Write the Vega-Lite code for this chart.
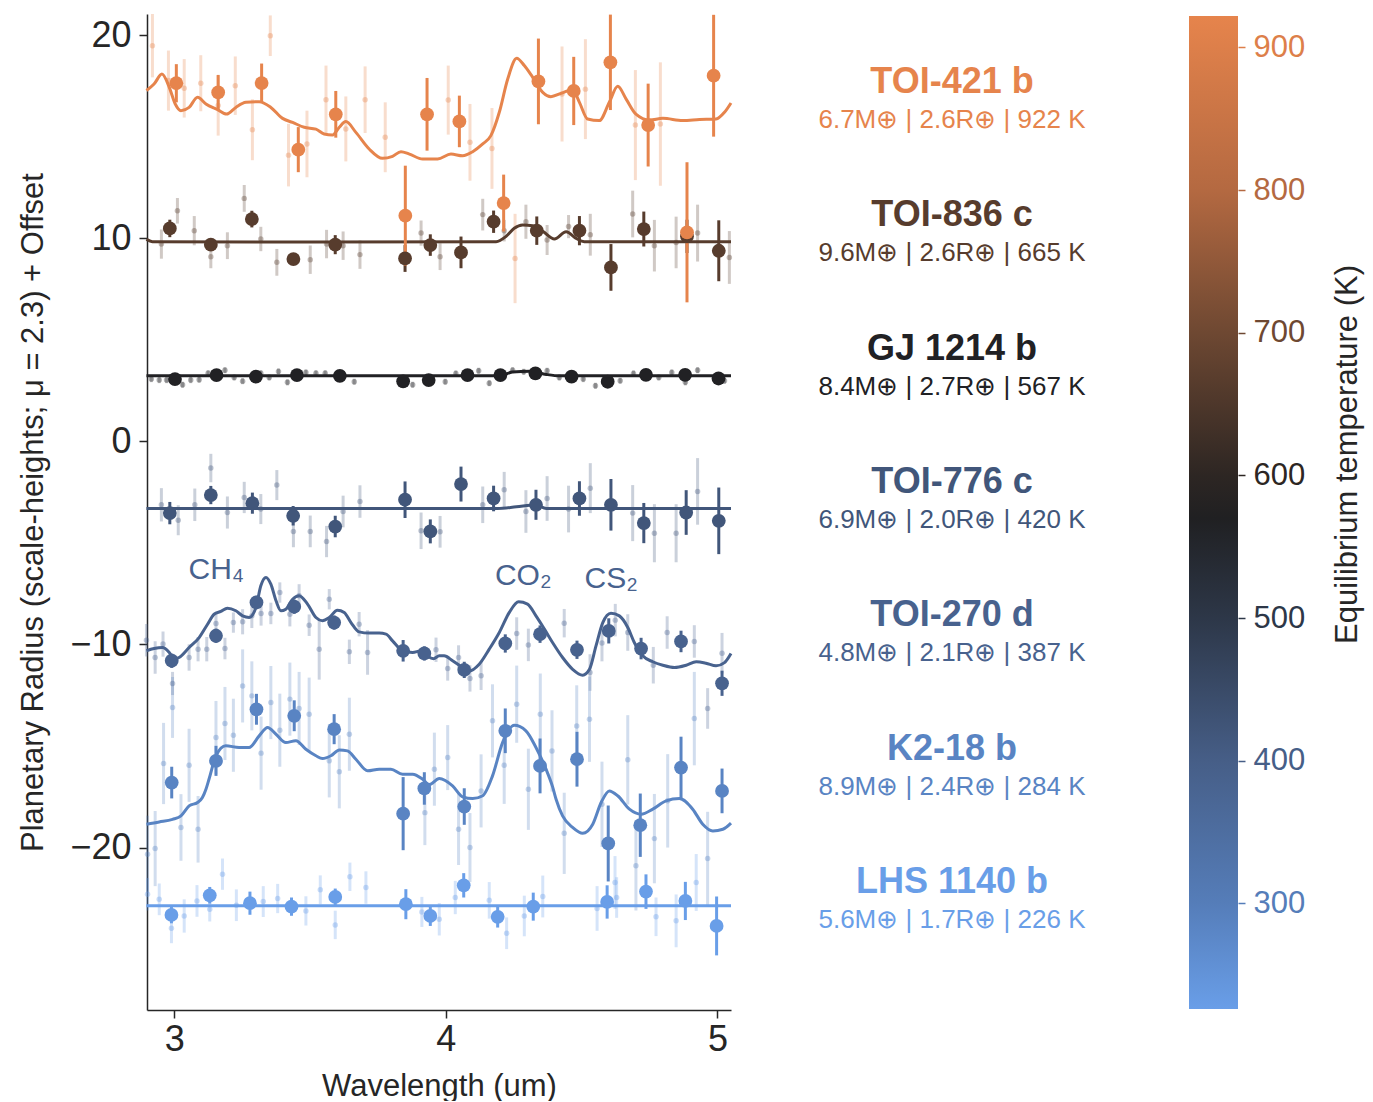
{
  "$schema": "https://vega.github.io/schema/vega-lite/v6.json",
  "padding": {"left": 17, "top": 12, "right": 5, "bottom": 0},
  "config": {"view": {"stroke": null}, "font": "Liberation Sans", "axis": {"grid": false}},
  "spacing": 20,
  "resolve": {"scale": {"color": "independent"}},
  "datasets": {
    "binned": [
      {"p":"TOI-836 c","t":665,"x":2.984,"y":10.49,"e":0.43},{"p":"TOI-836 c","t":665,"x":3.135,"y":9.69,"e":0.29},{"p":"TOI-836 c","t":665,"x":3.286,"y":10.95,"e":0.41},{"p":"TOI-836 c","t":665,"x":3.439,"y":8.98,"e":0.29},{"p":"TOI-836 c","t":665,"x":3.593,"y":9.69,"e":0.47},{"p":"TOI-836 c","t":665,"x":3.85,"y":9.01,"e":0.66},{"p":"TOI-836 c","t":665,"x":3.943,"y":9.67,"e":0.53},{"p":"TOI-836 c","t":665,"x":4.056,"y":9.31,"e":0.78},{"p":"TOI-836 c","t":665,"x":4.176,"y":10.82,"e":0.55},{"p":"TOI-836 c","t":665,"x":4.335,"y":10.38,"e":0.7},{"p":"TOI-836 c","t":665,"x":4.492,"y":10.38,"e":0.72},{"p":"TOI-836 c","t":665,"x":4.608,"y":8.57,"e":1.15},{"p":"TOI-836 c","t":665,"x":4.729,"y":10.46,"e":0.86},{"p":"TOI-836 c","t":665,"x":4.888,"y":10.1,"e":0.82},{"p":"TOI-836 c","t":665,"x":5.005,"y":9.39,"e":1.5},
      {"p":"TOI-421 b","t":922,"x":3.008,"y":17.64,"e":0.94},{"p":"TOI-421 b","t":922,"x":3.162,"y":17.19,"e":0.86},{"p":"TOI-421 b","t":922,"x":3.322,"y":17.65,"e":0.96},{"p":"TOI-421 b","t":922,"x":3.457,"y":14.37,"e":1.11},{"p":"TOI-421 b","t":922,"x":3.595,"y":16.11,"e":1.15},{"p":"TOI-421 b","t":922,"x":3.851,"y":11.12,"e":2.46},{"p":"TOI-421 b","t":922,"x":3.931,"y":16.11,"e":1.79},{"p":"TOI-421 b","t":922,"x":4.05,"y":15.76,"e":1.27},{"p":"TOI-421 b","t":922,"x":4.213,"y":11.74,"e":1.4},{"p":"TOI-421 b","t":922,"x":4.341,"y":17.73,"e":2.11},{"p":"TOI-421 b","t":922,"x":4.471,"y":17.26,"e":1.68},{"p":"TOI-421 b","t":922,"x":4.606,"y":18.67,"e":2.35},{"p":"TOI-421 b","t":922,"x":4.745,"y":15.58,"e":2.04},{"p":"TOI-421 b","t":922,"x":4.888,"y":10.3,"e":3.45},{"p":"TOI-421 b","t":922,"x":4.986,"y":18.01,"e":3.0},
      {"p":"GJ 1214 b","t":567,"x":3.003,"y":3.07,"e":0.12},{"p":"GJ 1214 b","t":567,"x":3.156,"y":3.27,"e":0.12},{"p":"GJ 1214 b","t":567,"x":3.301,"y":3.19,"e":0.12},{"p":"GJ 1214 b","t":567,"x":3.452,"y":3.27,"e":0.12},{"p":"GJ 1214 b","t":567,"x":3.61,"y":3.23,"e":0.12},{"p":"GJ 1214 b","t":567,"x":3.843,"y":2.96,"e":0.12},{"p":"GJ 1214 b","t":567,"x":3.937,"y":3.02,"e":0.12},{"p":"GJ 1214 b","t":567,"x":4.08,"y":3.27,"e":0.12},{"p":"GJ 1214 b","t":567,"x":4.201,"y":3.27,"e":0.12},{"p":"GJ 1214 b","t":567,"x":4.33,"y":3.35,"e":0.12},{"p":"GJ 1214 b","t":567,"x":4.463,"y":3.19,"e":0.12},{"p":"GJ 1214 b","t":567,"x":4.596,"y":2.94,"e":0.12},{"p":"GJ 1214 b","t":567,"x":4.737,"y":3.28,"e":0.12},{"p":"GJ 1214 b","t":567,"x":4.881,"y":3.28,"e":0.12},{"p":"GJ 1214 b","t":567,"x":5.004,"y":3.1,"e":0.12},
      {"p":"TOI-776 c","t":420,"x":2.984,"y":-3.53,"e":0.55},{"p":"TOI-776 c","t":420,"x":3.135,"y":-2.64,"e":0.45},{"p":"TOI-776 c","t":420,"x":3.288,"y":-3.04,"e":0.52},{"p":"TOI-776 c","t":420,"x":3.438,"y":-3.66,"e":0.48},{"p":"TOI-776 c","t":420,"x":3.593,"y":-4.19,"e":0.53},{"p":"TOI-776 c","t":420,"x":3.85,"y":-2.87,"e":0.9},{"p":"TOI-776 c","t":420,"x":3.943,"y":-4.43,"e":0.59},{"p":"TOI-776 c","t":420,"x":4.056,"y":-2.1,"e":0.86},{"p":"TOI-776 c","t":420,"x":4.176,"y":-2.81,"e":0.63},{"p":"TOI-776 c","t":420,"x":4.332,"y":-3.12,"e":0.74},{"p":"TOI-776 c","t":420,"x":4.492,"y":-2.81,"e":0.85},{"p":"TOI-776 c","t":420,"x":4.608,"y":-3.12,"e":1.27},{"p":"TOI-776 c","t":420,"x":4.729,"y":-4.02,"e":0.99},{"p":"TOI-776 c","t":420,"x":4.885,"y":-3.5,"e":1.1},{"p":"TOI-776 c","t":420,"x":5.005,"y":-3.91,"e":1.64},
      {"p":"TOI-270 d","t":387,"x":2.991,"y":-10.8,"e":0.35},{"p":"TOI-270 d","t":387,"x":3.154,"y":-9.57,"e":0.35},{"p":"TOI-270 d","t":387,"x":3.303,"y":-7.93,"e":0.33},{"p":"TOI-270 d","t":387,"x":3.442,"y":-8.14,"e":0.35},{"p":"TOI-270 d","t":387,"x":3.589,"y":-8.92,"e":0.35},{"p":"TOI-270 d","t":387,"x":3.843,"y":-10.31,"e":0.53},{"p":"TOI-270 d","t":387,"x":3.921,"y":-10.44,"e":0.35},{"p":"TOI-270 d","t":387,"x":4.068,"y":-11.25,"e":0.4},{"p":"TOI-270 d","t":387,"x":4.219,"y":-9.95,"e":0.45},{"p":"TOI-270 d","t":387,"x":4.347,"y":-9.49,"e":0.43},{"p":"TOI-270 d","t":387,"x":4.483,"y":-10.26,"e":0.45},{"p":"TOI-270 d","t":387,"x":4.6,"y":-9.33,"e":0.62},{"p":"TOI-270 d","t":387,"x":4.719,"y":-10.2,"e":0.53},{"p":"TOI-270 d","t":387,"x":4.866,"y":-9.85,"e":0.53},{"p":"TOI-270 d","t":387,"x":5.017,"y":-11.91,"e":0.62},
      {"p":"K2-18 b","t":284,"x":2.991,"y":-16.8,"e":0.78},{"p":"K2-18 b","t":284,"x":3.154,"y":-15.73,"e":0.74},{"p":"K2-18 b","t":284,"x":3.303,"y":-13.19,"e":0.76},{"p":"K2-18 b","t":284,"x":3.442,"y":-13.51,"e":0.76},{"p":"K2-18 b","t":284,"x":3.589,"y":-14.17,"e":0.74},{"p":"K2-18 b","t":284,"x":3.843,"y":-18.33,"e":1.8},{"p":"K2-18 b","t":284,"x":3.921,"y":-17.09,"e":0.8},{"p":"K2-18 b","t":284,"x":4.068,"y":-17.98,"e":0.9},{"p":"K2-18 b","t":284,"x":4.219,"y":-14.25,"e":1.1},{"p":"K2-18 b","t":284,"x":4.347,"y":-15.98,"e":1.35},{"p":"K2-18 b","t":284,"x":4.483,"y":-15.65,"e":1.35},{"p":"K2-18 b","t":284,"x":4.598,"y":-19.8,"e":1.87},{"p":"K2-18 b","t":284,"x":4.716,"y":-18.9,"e":1.56},{"p":"K2-18 b","t":284,"x":4.866,"y":-16.06,"e":1.52},{"p":"K2-18 b","t":284,"x":5.017,"y":-17.21,"e":1.1},
      {"p":"LHS 1140 b","t":226,"x":2.99,"y":-23.32,"e":0.41},{"p":"LHS 1140 b","t":226,"x":3.131,"y":-22.35,"e":0.41},{"p":"LHS 1140 b","t":226,"x":3.279,"y":-22.74,"e":0.57},{"p":"LHS 1140 b","t":226,"x":3.432,"y":-22.91,"e":0.45},{"p":"LHS 1140 b","t":226,"x":3.593,"y":-22.43,"e":0.41},{"p":"LHS 1140 b","t":226,"x":3.853,"y":-22.79,"e":0.74},{"p":"LHS 1140 b","t":226,"x":3.943,"y":-23.37,"e":0.49},{"p":"LHS 1140 b","t":226,"x":4.066,"y":-21.86,"e":0.6},{"p":"LHS 1140 b","t":226,"x":4.191,"y":-23.41,"e":0.53},{"p":"LHS 1140 b","t":226,"x":4.322,"y":-22.91,"e":0.69},{"p":"LHS 1140 b","t":226,"x":4.594,"y":-22.68,"e":0.82},{"p":"LHS 1140 b","t":226,"x":4.737,"y":-22.17,"e":0.85},{"p":"LHS 1140 b","t":226,"x":4.882,"y":-22.63,"e":0.94},{"p":"LHS 1140 b","t":226,"x":4.997,"y":-23.86,"e":1.45}
    ],
    "faint": [
      {"p":"TOI-421 b","t":922,"x":2.92,"y":19.49,"e":1.56},{"p":"TOI-421 b","t":922,"x":2.979,"y":17.77,"e":1.48},{"p":"TOI-421 b","t":922,"x":3.037,"y":17.39,"e":1.44},{"p":"TOI-421 b","t":922,"x":3.098,"y":17.64,"e":1.38},{"p":"TOI-421 b","t":922,"x":3.162,"y":16.54,"e":1.48},{"p":"TOI-421 b","t":922,"x":3.225,"y":17.52,"e":1.44},{"p":"TOI-421 b","t":922,"x":3.288,"y":15.35,"e":1.5},{"p":"TOI-421 b","t":922,"x":3.354,"y":19.98,"e":1.0},{"p":"TOI-421 b","t":922,"x":3.421,"y":14.1,"e":1.54},{"p":"TOI-421 b","t":922,"x":3.489,"y":14.65,"e":1.64},{"p":"TOI-421 b","t":922,"x":3.559,"y":16.83,"e":1.68},{"p":"TOI-421 b","t":922,"x":3.632,"y":15.39,"e":1.6},{"p":"TOI-421 b","t":922,"x":3.703,"y":16.83,"e":1.64},{"p":"TOI-421 b","t":922,"x":3.777,"y":14.98,"e":1.72},{"p":"TOI-421 b","t":922,"x":4.009,"y":16.81,"e":1.7},{"p":"TOI-421 b","t":922,"x":4.089,"y":14.73,"e":1.89},{"p":"TOI-421 b","t":922,"x":4.17,"y":14.43,"e":1.99},{"p":"TOI-421 b","t":922,"x":4.255,"y":9.01,"e":2.2},{"p":"TOI-421 b","t":922,"x":4.428,"y":17.11,"e":2.34},{"p":"TOI-421 b","t":922,"x":4.514,"y":17.35,"e":2.46},{"p":"TOI-421 b","t":922,"x":4.698,"y":15.58,"e":2.71},{"p":"TOI-421 b","t":922,"x":4.79,"y":15.63,"e":3.04},
      {"p":"TOI-836 c","t":665,"x":2.953,"y":9.72,"e":0.72},{"p":"TOI-836 c","t":665,"x":3.012,"y":11.36,"e":0.63},{"p":"TOI-836 c","t":665,"x":3.074,"y":10.38,"e":0.72},{"p":"TOI-836 c","t":665,"x":3.135,"y":9.1,"e":0.57},{"p":"TOI-836 c","t":665,"x":3.196,"y":9.64,"e":0.66},{"p":"TOI-836 c","t":665,"x":3.258,"y":11.97,"e":0.66},{"p":"TOI-836 c","t":665,"x":3.319,"y":9.97,"e":0.6},{"p":"TOI-836 c","t":665,"x":3.378,"y":8.82,"e":0.66},{"p":"TOI-836 c","t":665,"x":3.501,"y":8.95,"e":0.7},{"p":"TOI-836 c","t":665,"x":3.561,"y":9.72,"e":0.7},{"p":"TOI-836 c","t":665,"x":3.622,"y":9.64,"e":0.7},{"p":"TOI-836 c","t":665,"x":3.684,"y":9.2,"e":0.7},{"p":"TOI-836 c","t":665,"x":3.909,"y":10.26,"e":0.62},{"p":"TOI-836 c","t":665,"x":3.979,"y":9.1,"e":0.66},{"p":"TOI-836 c","t":665,"x":4.136,"y":11.17,"e":0.78},{"p":"TOI-836 c","t":665,"x":4.215,"y":10.38,"e":0.53},{"p":"TOI-836 c","t":665,"x":4.295,"y":10.82,"e":0.84},{"p":"TOI-836 c","t":665,"x":4.373,"y":9.92,"e":0.74},{"p":"TOI-836 c","t":665,"x":4.452,"y":10.58,"e":0.57},{"p":"TOI-836 c","t":665,"x":4.532,"y":10.18,"e":1.03},{"p":"TOI-836 c","t":665,"x":4.688,"y":11.2,"e":1.15},{"p":"TOI-836 c","t":665,"x":4.768,"y":9.64,"e":1.27},{"p":"TOI-836 c","t":665,"x":4.848,"y":9.8,"e":1.27},{"p":"TOI-836 c","t":665,"x":4.927,"y":10.26,"e":1.4},{"p":"TOI-836 c","t":665,"x":5.044,"y":9.06,"e":1.3},
      {"p":"GJ 1214 b","t":567,"x":2.916,"y":3.07,"e":0.15},{"p":"GJ 1214 b","t":567,"x":2.945,"y":3.02,"e":0.15},{"p":"GJ 1214 b","t":567,"x":2.972,"y":3.02,"e":0.15},{"p":"GJ 1214 b","t":567,"x":3.031,"y":2.79,"e":0.15},{"p":"GJ 1214 b","t":567,"x":3.061,"y":3.02,"e":0.15},{"p":"GJ 1214 b","t":567,"x":3.092,"y":3.04,"e":0.15},{"p":"GJ 1214 b","t":567,"x":3.125,"y":3.36,"e":0.15},{"p":"GJ 1214 b","t":567,"x":3.187,"y":3.51,"e":0.15},{"p":"GJ 1214 b","t":567,"x":3.221,"y":3.15,"e":0.15},{"p":"GJ 1214 b","t":567,"x":3.252,"y":2.97,"e":0.15},{"p":"GJ 1214 b","t":567,"x":3.319,"y":3.36,"e":0.15},{"p":"GJ 1214 b","t":567,"x":3.35,"y":3.15,"e":0.15},{"p":"GJ 1214 b","t":567,"x":3.384,"y":3.45,"e":0.15},{"p":"GJ 1214 b","t":567,"x":3.417,"y":2.91,"e":0.15},{"p":"GJ 1214 b","t":567,"x":3.485,"y":3.4,"e":0.15},{"p":"GJ 1214 b","t":567,"x":3.522,"y":3.36,"e":0.15},{"p":"GJ 1214 b","t":567,"x":3.556,"y":3.36,"e":0.15},{"p":"GJ 1214 b","t":567,"x":3.663,"y":2.94,"e":0.15},{"p":"GJ 1214 b","t":567,"x":3.878,"y":2.79,"e":0.15},{"p":"GJ 1214 b","t":567,"x":3.998,"y":2.94,"e":0.15},{"p":"GJ 1214 b","t":567,"x":4.037,"y":3.35,"e":0.15},{"p":"GJ 1214 b","t":567,"x":4.121,"y":3.48,"e":0.15},{"p":"GJ 1214 b","t":567,"x":4.16,"y":2.87,"e":0.15},{"p":"GJ 1214 b","t":567,"x":4.246,"y":3.51,"e":0.15},{"p":"GJ 1214 b","t":567,"x":4.287,"y":3.43,"e":0.15},{"p":"GJ 1214 b","t":567,"x":4.373,"y":3.48,"e":0.15},{"p":"GJ 1214 b","t":567,"x":4.418,"y":3.15,"e":0.15},{"p":"GJ 1214 b","t":567,"x":4.506,"y":3.07,"e":0.15},{"p":"GJ 1214 b","t":567,"x":4.551,"y":2.74,"e":0.15},{"p":"GJ 1214 b","t":567,"x":4.642,"y":2.99,"e":0.15},{"p":"GJ 1214 b","t":567,"x":4.691,"y":3.35,"e":0.15},{"p":"GJ 1214 b","t":567,"x":4.784,"y":3.15,"e":0.15},{"p":"GJ 1214 b","t":567,"x":4.832,"y":3.4,"e":0.15},{"p":"GJ 1214 b","t":567,"x":4.882,"y":2.91,"e":0.15},{"p":"GJ 1214 b","t":567,"x":4.927,"y":3.51,"e":0.15},{"p":"GJ 1214 b","t":567,"x":5.026,"y":2.99,"e":0.15},
      {"p":"TOI-776 c","t":420,"x":2.953,"y":-3.12,"e":0.82},{"p":"TOI-776 c","t":420,"x":3.015,"y":-3.88,"e":0.74},{"p":"TOI-776 c","t":420,"x":3.076,"y":-3.12,"e":0.8},{"p":"TOI-776 c","t":420,"x":3.135,"y":-1.31,"e":0.7},{"p":"TOI-776 c","t":420,"x":3.196,"y":-3.5,"e":0.79},{"p":"TOI-776 c","t":420,"x":3.258,"y":-2.76,"e":0.77},{"p":"TOI-776 c","t":420,"x":3.319,"y":-3.33,"e":0.74},{"p":"TOI-776 c","t":420,"x":3.378,"y":-2.15,"e":0.74},{"p":"TOI-776 c","t":420,"x":3.439,"y":-4.43,"e":0.78},{"p":"TOI-776 c","t":420,"x":3.501,"y":-4.43,"e":0.78},{"p":"TOI-776 c","t":420,"x":3.561,"y":-4.93,"e":0.77},{"p":"TOI-776 c","t":420,"x":3.622,"y":-3.45,"e":0.78},{"p":"TOI-776 c","t":420,"x":3.684,"y":-2.96,"e":0.8},{"p":"TOI-776 c","t":420,"x":3.909,"y":-4.4,"e":0.9},{"p":"TOI-776 c","t":420,"x":3.979,"y":-4.45,"e":0.78},{"p":"TOI-776 c","t":420,"x":4.136,"y":-3.12,"e":0.9},{"p":"TOI-776 c","t":420,"x":4.215,"y":-2.38,"e":0.88},{"p":"TOI-776 c","t":420,"x":4.295,"y":-3.45,"e":1.05},{"p":"TOI-776 c","t":420,"x":4.373,"y":-2.81,"e":1.1},{"p":"TOI-776 c","t":420,"x":4.452,"y":-3.33,"e":1.15},{"p":"TOI-776 c","t":420,"x":4.532,"y":-2.3,"e":1.23},{"p":"TOI-776 c","t":420,"x":4.688,"y":-3.53,"e":1.38},{"p":"TOI-776 c","t":420,"x":4.768,"y":-4.52,"e":1.43},{"p":"TOI-776 c","t":420,"x":4.848,"y":-4.52,"e":1.43},{"p":"TOI-776 c","t":420,"x":4.927,"y":-2.46,"e":1.64},
      {"p":"TOI-270 d","t":387,"x":2.898,"y":-9.79,"e":0.8},{"p":"TOI-270 d","t":387,"x":2.93,"y":-10.64,"e":0.8},{"p":"TOI-270 d","t":387,"x":2.959,"y":-9.98,"e":0.62},{"p":"TOI-270 d","t":387,"x":2.994,"y":-11.92,"e":0.57},{"p":"TOI-270 d","t":387,"x":3.055,"y":-10.64,"e":0.65},{"p":"TOI-270 d","t":387,"x":3.088,"y":-10.23,"e":0.6},{"p":"TOI-270 d","t":387,"x":3.12,"y":-10.23,"e":0.6},{"p":"TOI-270 d","t":387,"x":3.154,"y":-8.97,"e":0.53},{"p":"TOI-270 d","t":387,"x":3.187,"y":-10.2,"e":0.53},{"p":"TOI-270 d","t":387,"x":3.218,"y":-8.92,"e":0.5},{"p":"TOI-270 d","t":387,"x":3.252,"y":-8.88,"e":0.62},{"p":"TOI-270 d","t":387,"x":3.286,"y":-8.59,"e":0.6},{"p":"TOI-270 d","t":387,"x":3.32,"y":-8.47,"e":0.6},{"p":"TOI-270 d","t":387,"x":3.356,"y":-8.47,"e":0.53},{"p":"TOI-270 d","t":387,"x":3.389,"y":-7.44,"e":0.5},{"p":"TOI-270 d","t":387,"x":3.426,"y":-8.51,"e":0.6},{"p":"TOI-270 d","t":387,"x":3.46,"y":-7.6,"e":0.57},{"p":"TOI-270 d","t":387,"x":3.497,"y":-9.05,"e":0.53},{"p":"TOI-270 d","t":387,"x":3.534,"y":-10.23,"e":1.5},{"p":"TOI-270 d","t":387,"x":3.571,"y":-7.77,"e":0.5},{"p":"TOI-270 d","t":387,"x":3.645,"y":-10.36,"e":0.6},{"p":"TOI-270 d","t":387,"x":3.681,"y":-9.0,"e":0.6},{"p":"TOI-270 d","t":387,"x":3.712,"y":-10.39,"e":1.1},{"p":"TOI-270 d","t":387,"x":3.964,"y":-10.26,"e":0.6},{"p":"TOI-270 d","t":387,"x":4.007,"y":-11.18,"e":0.6},{"p":"TOI-270 d","t":387,"x":4.047,"y":-10.64,"e":0.6},{"p":"TOI-270 d","t":387,"x":4.089,"y":-11.67,"e":0.65},{"p":"TOI-270 d","t":387,"x":4.13,"y":-11.54,"e":0.7},{"p":"TOI-270 d","t":387,"x":4.261,"y":-9.46,"e":0.8},{"p":"TOI-270 d","t":387,"x":4.304,"y":-10.02,"e":0.8},{"p":"TOI-270 d","t":387,"x":4.436,"y":-8.95,"e":0.7},{"p":"TOI-270 d","t":387,"x":4.531,"y":-11.38,"e":0.9},{"p":"TOI-270 d","t":387,"x":4.575,"y":-9.93,"e":0.9},{"p":"TOI-270 d","t":387,"x":4.624,"y":-8.8,"e":0.8},{"p":"TOI-270 d","t":387,"x":4.67,"y":-9.41,"e":0.9},{"p":"TOI-270 d","t":387,"x":4.764,"y":-11.02,"e":0.9},{"p":"TOI-270 d","t":387,"x":4.815,"y":-9.41,"e":0.8},{"p":"TOI-270 d","t":387,"x":4.915,"y":-9.85,"e":0.8},{"p":"TOI-270 d","t":387,"x":4.964,"y":-13.15,"e":1.0},{"p":"TOI-270 d","t":387,"x":5.017,"y":-10.43,"e":1.0},
      {"p":"K2-18 b","t":284,"x":2.902,"y":-20.33,"e":1.9},{"p":"K2-18 b","t":284,"x":2.93,"y":-20.05,"e":1.85},{"p":"K2-18 b","t":284,"x":2.961,"y":-15.86,"e":2.0},{"p":"K2-18 b","t":284,"x":2.994,"y":-13.1,"e":1.5},{"p":"K2-18 b","t":284,"x":3.025,"y":-19.01,"e":1.64},{"p":"K2-18 b","t":284,"x":3.055,"y":-15.95,"e":1.8},{"p":"K2-18 b","t":284,"x":3.088,"y":-19.1,"e":1.64},{"p":"K2-18 b","t":284,"x":3.154,"y":-14.58,"e":1.8},{"p":"K2-18 b","t":284,"x":3.187,"y":-13.89,"e":1.8},{"p":"K2-18 b","t":284,"x":3.218,"y":-14.47,"e":1.8},{"p":"K2-18 b","t":284,"x":3.252,"y":-12.04,"e":1.8},{"p":"K2-18 b","t":284,"x":3.286,"y":-12.53,"e":1.7},{"p":"K2-18 b","t":284,"x":3.32,"y":-15.35,"e":1.8},{"p":"K2-18 b","t":284,"x":3.356,"y":-12.86,"e":1.8},{"p":"K2-18 b","t":284,"x":3.389,"y":-14.22,"e":1.8},{"p":"K2-18 b","t":284,"x":3.426,"y":-12.69,"e":1.8},{"p":"K2-18 b","t":284,"x":3.46,"y":-13.15,"e":1.8},{"p":"K2-18 b","t":284,"x":3.497,"y":-13.43,"e":1.8},{"p":"K2-18 b","t":284,"x":3.571,"y":-15.73,"e":1.8},{"p":"K2-18 b","t":284,"x":3.608,"y":-16.27,"e":1.8},{"p":"K2-18 b","t":284,"x":3.645,"y":-14.42,"e":1.8},{"p":"K2-18 b","t":284,"x":3.923,"y":-18.28,"e":1.6},{"p":"K2-18 b","t":284,"x":3.958,"y":-16.14,"e":1.8},{"p":"K2-18 b","t":284,"x":4.007,"y":-15.57,"e":1.6},{"p":"K2-18 b","t":284,"x":4.047,"y":-19.1,"e":1.76},{"p":"K2-18 b","t":284,"x":4.089,"y":-20.0,"e":1.7},{"p":"K2-18 b","t":284,"x":4.13,"y":-17.21,"e":1.8},{"p":"K2-18 b","t":284,"x":4.172,"y":-13.76,"e":1.8},{"p":"K2-18 b","t":284,"x":4.215,"y":-15.95,"e":1.9},{"p":"K2-18 b","t":284,"x":4.261,"y":-12.94,"e":1.9},{"p":"K2-18 b","t":284,"x":4.304,"y":-17.13,"e":2.0},{"p":"K2-18 b","t":284,"x":4.348,"y":-13.43,"e":2.0},{"p":"K2-18 b","t":284,"x":4.391,"y":-15.24,"e":2.0},{"p":"K2-18 b","t":284,"x":4.436,"y":-19.3,"e":2.0},{"p":"K2-18 b","t":284,"x":4.482,"y":-14.01,"e":2.0},{"p":"K2-18 b","t":284,"x":4.529,"y":-13.68,"e":2.1},{"p":"K2-18 b","t":284,"x":4.575,"y":-17.87,"e":2.1},{"p":"K2-18 b","t":284,"x":4.67,"y":-15.68,"e":2.2},{"p":"K2-18 b","t":284,"x":4.7,"y":-20.9,"e":2.2},{"p":"K2-18 b","t":284,"x":4.768,"y":-19.56,"e":2.2},{"p":"K2-18 b","t":284,"x":4.817,"y":-17.7,"e":2.3},{"p":"K2-18 b","t":284,"x":4.915,"y":-13.65,"e":2.3},{"p":"K2-18 b","t":284,"x":4.964,"y":-20.54,"e":2.3},
      {"p":"LHS 1140 b","t":226,"x":2.902,"y":-22.3,"e":0.8},{"p":"LHS 1140 b","t":226,"x":2.945,"y":-22.55,"e":0.78},{"p":"LHS 1140 b","t":226,"x":2.99,"y":-23.97,"e":0.74},{"p":"LHS 1140 b","t":226,"x":3.037,"y":-23.37,"e":0.82},{"p":"LHS 1140 b","t":226,"x":3.084,"y":-22.63,"e":0.78},{"p":"LHS 1140 b","t":226,"x":3.131,"y":-23.04,"e":0.6},{"p":"LHS 1140 b","t":226,"x":3.178,"y":-21.31,"e":0.77},{"p":"LHS 1140 b","t":226,"x":3.229,"y":-22.84,"e":0.78},{"p":"LHS 1140 b","t":226,"x":3.328,"y":-22.66,"e":0.76},{"p":"LHS 1140 b","t":226,"x":3.381,"y":-22.51,"e":0.72},{"p":"LHS 1140 b","t":226,"x":3.485,"y":-23.12,"e":0.72},{"p":"LHS 1140 b","t":226,"x":3.538,"y":-22.08,"e":0.71},{"p":"LHS 1140 b","t":226,"x":3.593,"y":-23.81,"e":0.7},{"p":"LHS 1140 b","t":226,"x":3.647,"y":-21.44,"e":0.7},{"p":"LHS 1140 b","t":226,"x":3.706,"y":-21.97,"e":0.8},{"p":"LHS 1140 b","t":226,"x":3.912,"y":-23.17,"e":0.74},{"p":"LHS 1140 b","t":226,"x":3.976,"y":-23.53,"e":0.8},{"p":"LHS 1140 b","t":226,"x":4.035,"y":-22.46,"e":0.82},{"p":"LHS 1140 b","t":226,"x":4.16,"y":-22.6,"e":0.9},{"p":"LHS 1140 b","t":226,"x":4.224,"y":-24.22,"e":0.78},{"p":"LHS 1140 b","t":226,"x":4.289,"y":-23.37,"e":1.0},{"p":"LHS 1140 b","t":226,"x":4.357,"y":-22.41,"e":1.03},{"p":"LHS 1140 b","t":226,"x":4.557,"y":-23.0,"e":1.1},{"p":"LHS 1140 b","t":226,"x":4.623,"y":-21.72,"e":1.3},{"p":"LHS 1140 b","t":226,"x":4.629,"y":-22.46,"e":1.0},{"p":"LHS 1140 b","t":226,"x":4.774,"y":-23.41,"e":0.95},{"p":"LHS 1140 b","t":226,"x":4.848,"y":-23.61,"e":1.3},{"p":"LHS 1140 b","t":226,"x":4.922,"y":-21.72,"e":1.4}
    ],
    "model": [
      {"p":"TOI-421 b","t":922,"x":2.898,"y":17.28},{"p":"TOI-421 b","t":922,"x":2.926,"y":17.6},{"p":"TOI-421 b","t":922,"x":2.955,"y":18.09},{"p":"TOI-421 b","t":922,"x":2.982,"y":17.44},{"p":"TOI-421 b","t":922,"x":3.004,"y":16.62},{"p":"TOI-421 b","t":922,"x":3.025,"y":16.29},{"p":"TOI-421 b","t":922,"x":3.055,"y":16.45},{"p":"TOI-421 b","t":922,"x":3.086,"y":16.95},{"p":"TOI-421 b","t":922,"x":3.117,"y":16.62},{"p":"TOI-421 b","t":922,"x":3.16,"y":16.34},{"p":"TOI-421 b","t":922,"x":3.193,"y":16.12},{"p":"TOI-421 b","t":922,"x":3.227,"y":16.45},{"p":"TOI-421 b","t":922,"x":3.264,"y":16.7},{"p":"TOI-421 b","t":922,"x":3.313,"y":16.73},{"p":"TOI-421 b","t":922,"x":3.356,"y":16.45},{"p":"TOI-421 b","t":922,"x":3.399,"y":15.91},{"p":"TOI-421 b","t":922,"x":3.436,"y":15.71},{"p":"TOI-421 b","t":922,"x":3.479,"y":15.47},{"p":"TOI-421 b","t":922,"x":3.522,"y":15.38},{"p":"TOI-421 b","t":922,"x":3.552,"y":15.14},{"p":"TOI-421 b","t":922,"x":3.583,"y":15.09},{"p":"TOI-421 b","t":922,"x":3.608,"y":15.47},{"p":"TOI-421 b","t":922,"x":3.632,"y":15.75},{"p":"TOI-421 b","t":922,"x":3.669,"y":15.22},{"p":"TOI-421 b","t":922,"x":3.718,"y":14.4},{"p":"TOI-421 b","t":922,"x":3.767,"y":13.94},{"p":"TOI-421 b","t":922,"x":3.804,"y":14.04},{"p":"TOI-421 b","t":922,"x":3.835,"y":14.27},{"p":"TOI-421 b","t":922,"x":3.866,"y":14.15},{"p":"TOI-421 b","t":922,"x":3.915,"y":13.91},{"p":"TOI-421 b","t":922,"x":3.97,"y":13.91},{"p":"TOI-421 b","t":922,"x":4.019,"y":14.15},{"p":"TOI-421 b","t":922,"x":4.062,"y":14.07},{"p":"TOI-421 b","t":922,"x":4.099,"y":14.27},{"p":"TOI-421 b","t":922,"x":4.136,"y":14.65},{"p":"TOI-421 b","t":922,"x":4.166,"y":15.06},{"p":"TOI-421 b","t":922,"x":4.197,"y":16.21},{"p":"TOI-421 b","t":922,"x":4.228,"y":17.85},{"p":"TOI-421 b","t":922,"x":4.261,"y":18.87},{"p":"TOI-421 b","t":922,"x":4.289,"y":18.51},{"p":"TOI-421 b","t":922,"x":4.32,"y":17.93},{"p":"TOI-421 b","t":922,"x":4.357,"y":17.19},{"p":"TOI-421 b","t":922,"x":4.387,"y":16.98},{"p":"TOI-421 b","t":922,"x":4.424,"y":17.14},{"p":"TOI-421 b","t":922,"x":4.467,"y":17.32},{"p":"TOI-421 b","t":922,"x":4.492,"y":16.7},{"p":"TOI-421 b","t":922,"x":4.522,"y":15.88},{"p":"TOI-421 b","t":922,"x":4.565,"y":15.8},{"p":"TOI-421 b","t":922,"x":4.602,"y":16.7},{"p":"TOI-421 b","t":922,"x":4.633,"y":17.49},{"p":"TOI-421 b","t":922,"x":4.664,"y":16.86},{"p":"TOI-421 b","t":922,"x":4.7,"y":16.12},{"p":"TOI-421 b","t":922,"x":4.75,"y":15.83},{"p":"TOI-421 b","t":922,"x":4.799,"y":15.91},{"p":"TOI-421 b","t":922,"x":4.872,"y":15.8},{"p":"TOI-421 b","t":922,"x":4.934,"y":15.85},{"p":"TOI-421 b","t":922,"x":4.995,"y":15.88},{"p":"TOI-421 b","t":922,"x":5.026,"y":16.21},{"p":"TOI-421 b","t":922,"x":5.05,"y":16.67},
      {"p":"TOI-836 c","t":665,"x":2.898,"y":9.95},{"p":"TOI-836 c","t":665,"x":2.92,"y":9.84},{"p":"TOI-836 c","t":665,"x":3.5,"y":9.82},{"p":"TOI-836 c","t":665,"x":4.185,"y":9.84},{"p":"TOI-836 c","t":665,"x":4.222,"y":10.1},{"p":"TOI-836 c","t":665,"x":4.252,"y":10.5},{"p":"TOI-836 c","t":665,"x":4.283,"y":10.66},{"p":"TOI-836 c","t":665,"x":4.32,"y":10.62},{"p":"TOI-836 c","t":665,"x":4.357,"y":10.35},{"p":"TOI-836 c","t":665,"x":4.4,"y":9.97},{"p":"TOI-836 c","t":665,"x":4.443,"y":10.33},{"p":"TOI-836 c","t":665,"x":4.48,"y":10.0},{"p":"TOI-836 c","t":665,"x":4.51,"y":9.84},{"p":"TOI-836 c","t":665,"x":5.05,"y":9.84},
      {"p":"GJ 1214 b","t":567,"x":2.898,"y":3.23},{"p":"GJ 1214 b","t":567,"x":4.2,"y":3.23},{"p":"GJ 1214 b","t":567,"x":4.245,"y":3.42},{"p":"GJ 1214 b","t":567,"x":4.31,"y":3.46},{"p":"GJ 1214 b","t":567,"x":4.37,"y":3.3},{"p":"GJ 1214 b","t":567,"x":4.42,"y":3.23},{"p":"GJ 1214 b","t":567,"x":5.05,"y":3.23},
      {"p":"TOI-776 c","t":420,"x":2.898,"y":-3.3},{"p":"TOI-776 c","t":420,"x":4.19,"y":-3.3},{"p":"TOI-776 c","t":420,"x":4.26,"y":-3.22},{"p":"TOI-776 c","t":420,"x":4.33,"y":-3.13},{"p":"TOI-776 c","t":420,"x":4.37,"y":-3.3},{"p":"TOI-776 c","t":420,"x":5.05,"y":-3.3},
      {"p":"TOI-270 d","t":387,"x":2.898,"y":-10.31},{"p":"TOI-270 d","t":387,"x":2.926,"y":-10.2},{"p":"TOI-270 d","t":387,"x":2.957,"y":-10.15},{"p":"TOI-270 d","t":387,"x":2.982,"y":-10.39},{"p":"TOI-270 d","t":387,"x":3.0,"y":-10.72},{"p":"TOI-270 d","t":387,"x":3.018,"y":-10.64},{"p":"TOI-270 d","t":387,"x":3.055,"y":-10.15},{"p":"TOI-270 d","t":387,"x":3.092,"y":-9.66},{"p":"TOI-270 d","t":387,"x":3.123,"y":-9.0},{"p":"TOI-270 d","t":387,"x":3.147,"y":-8.51},{"p":"TOI-270 d","t":387,"x":3.172,"y":-8.37},{"p":"TOI-270 d","t":387,"x":3.196,"y":-8.21},{"p":"TOI-270 d","t":387,"x":3.227,"y":-8.34},{"p":"TOI-270 d","t":387,"x":3.252,"y":-8.59},{"p":"TOI-270 d","t":387,"x":3.276,"y":-8.67},{"p":"TOI-270 d","t":387,"x":3.301,"y":-8.18},{"p":"TOI-270 d","t":387,"x":3.319,"y":-7.11},{"p":"TOI-270 d","t":387,"x":3.338,"y":-6.7},{"p":"TOI-270 d","t":387,"x":3.356,"y":-7.03},{"p":"TOI-270 d","t":387,"x":3.375,"y":-7.85},{"p":"TOI-270 d","t":387,"x":3.393,"y":-8.34},{"p":"TOI-270 d","t":387,"x":3.411,"y":-8.26},{"p":"TOI-270 d","t":387,"x":3.436,"y":-7.77},{"p":"TOI-270 d","t":387,"x":3.46,"y":-7.6},{"p":"TOI-270 d","t":387,"x":3.491,"y":-8.01},{"p":"TOI-270 d","t":387,"x":3.522,"y":-8.67},{"p":"TOI-270 d","t":387,"x":3.546,"y":-8.83},{"p":"TOI-270 d","t":387,"x":3.571,"y":-8.67},{"p":"TOI-270 d","t":387,"x":3.601,"y":-8.31},{"p":"TOI-270 d","t":387,"x":3.626,"y":-8.42},{"p":"TOI-270 d","t":387,"x":3.651,"y":-8.92},{"p":"TOI-270 d","t":387,"x":3.681,"y":-9.38},{"p":"TOI-270 d","t":387,"x":3.718,"y":-9.44},{"p":"TOI-270 d","t":387,"x":3.755,"y":-9.44},{"p":"TOI-270 d","t":387,"x":3.78,"y":-9.49},{"p":"TOI-270 d","t":387,"x":3.804,"y":-9.82},{"p":"TOI-270 d","t":387,"x":3.841,"y":-10.31},{"p":"TOI-270 d","t":387,"x":3.878,"y":-10.39},{"p":"TOI-270 d","t":387,"x":3.909,"y":-10.31},{"p":"TOI-270 d","t":387,"x":3.933,"y":-10.58},{"p":"TOI-270 d","t":387,"x":3.955,"y":-10.7},{"p":"TOI-270 d","t":387,"x":3.976,"y":-10.56},{"p":"TOI-270 d","t":387,"x":3.994,"y":-10.56},{"p":"TOI-270 d","t":387,"x":4.025,"y":-10.8},{"p":"TOI-270 d","t":387,"x":4.062,"y":-11.13},{"p":"TOI-270 d","t":387,"x":4.087,"y":-11.3},{"p":"TOI-270 d","t":387,"x":4.123,"y":-10.97},{"p":"TOI-270 d","t":387,"x":4.16,"y":-10.23},{"p":"TOI-270 d","t":387,"x":4.197,"y":-9.41},{"p":"TOI-270 d","t":387,"x":4.234,"y":-8.42},{"p":"TOI-270 d","t":387,"x":4.268,"y":-7.9},{"p":"TOI-270 d","t":387,"x":4.301,"y":-8.01},{"p":"TOI-270 d","t":387,"x":4.332,"y":-8.59},{"p":"TOI-270 d","t":387,"x":4.363,"y":-9.24},{"p":"TOI-270 d","t":387,"x":4.393,"y":-9.9},{"p":"TOI-270 d","t":387,"x":4.43,"y":-10.64},{"p":"TOI-270 d","t":387,"x":4.467,"y":-11.22},{"p":"TOI-270 d","t":387,"x":4.504,"y":-11.51},{"p":"TOI-270 d","t":387,"x":4.529,"y":-11.22},{"p":"TOI-270 d","t":387,"x":4.553,"y":-10.07},{"p":"TOI-270 d","t":387,"x":4.578,"y":-8.92},{"p":"TOI-270 d","t":387,"x":4.608,"y":-8.46},{"p":"TOI-270 d","t":387,"x":4.639,"y":-8.59},{"p":"TOI-270 d","t":387,"x":4.67,"y":-9.16},{"p":"TOI-270 d","t":387,"x":4.694,"y":-9.9},{"p":"TOI-270 d","t":387,"x":4.725,"y":-10.56},{"p":"TOI-270 d","t":387,"x":4.762,"y":-10.85},{"p":"TOI-270 d","t":387,"x":4.799,"y":-11.02},{"p":"TOI-270 d","t":387,"x":4.842,"y":-11.13},{"p":"TOI-270 d","t":387,"x":4.885,"y":-11.02},{"p":"TOI-270 d","t":387,"x":4.922,"y":-10.85},{"p":"TOI-270 d","t":387,"x":4.958,"y":-10.92},{"p":"TOI-270 d","t":387,"x":4.995,"y":-11.05},{"p":"TOI-270 d","t":387,"x":5.026,"y":-10.89},{"p":"TOI-270 d","t":387,"x":5.05,"y":-10.44},
      {"p":"K2-18 b","t":284,"x":2.898,"y":-18.85},{"p":"K2-18 b","t":284,"x":2.945,"y":-18.74},{"p":"K2-18 b","t":284,"x":2.994,"y":-18.61},{"p":"K2-18 b","t":284,"x":3.025,"y":-18.44},{"p":"K2-18 b","t":284,"x":3.055,"y":-17.95},{"p":"K2-18 b","t":284,"x":3.086,"y":-17.78},{"p":"K2-18 b","t":284,"x":3.104,"y":-17.54},{"p":"K2-18 b","t":284,"x":3.117,"y":-17.13},{"p":"K2-18 b","t":284,"x":3.129,"y":-16.6},{"p":"K2-18 b","t":284,"x":3.154,"y":-15.48},{"p":"K2-18 b","t":284,"x":3.19,"y":-14.99},{"p":"K2-18 b","t":284,"x":3.239,"y":-15.07},{"p":"K2-18 b","t":284,"x":3.276,"y":-15.07},{"p":"K2-18 b","t":284,"x":3.313,"y":-14.5},{"p":"K2-18 b","t":284,"x":3.344,"y":-14.09},{"p":"K2-18 b","t":284,"x":3.375,"y":-14.42},{"p":"K2-18 b","t":284,"x":3.411,"y":-14.83},{"p":"K2-18 b","t":284,"x":3.448,"y":-14.74},{"p":"K2-18 b","t":284,"x":3.485,"y":-15.16},{"p":"K2-18 b","t":284,"x":3.522,"y":-15.48},{"p":"K2-18 b","t":284,"x":3.546,"y":-15.62},{"p":"K2-18 b","t":284,"x":3.577,"y":-15.48},{"p":"K2-18 b","t":284,"x":3.608,"y":-15.19},{"p":"K2-18 b","t":284,"x":3.638,"y":-15.24},{"p":"K2-18 b","t":284,"x":3.669,"y":-15.65},{"p":"K2-18 b","t":284,"x":3.712,"y":-16.22},{"p":"K2-18 b","t":284,"x":3.755,"y":-16.14},{"p":"K2-18 b","t":284,"x":3.798,"y":-16.14},{"p":"K2-18 b","t":284,"x":3.841,"y":-16.39},{"p":"K2-18 b","t":284,"x":3.878,"y":-16.39},{"p":"K2-18 b","t":284,"x":3.915,"y":-16.64},{"p":"K2-18 b","t":284,"x":3.939,"y":-16.9},{"p":"K2-18 b","t":284,"x":3.976,"y":-16.6},{"p":"K2-18 b","t":284,"x":4.025,"y":-16.96},{"p":"K2-18 b","t":284,"x":4.062,"y":-17.5},{"p":"K2-18 b","t":284,"x":4.099,"y":-17.59},{"p":"K2-18 b","t":284,"x":4.136,"y":-17.45},{"p":"K2-18 b","t":284,"x":4.172,"y":-16.47},{"p":"K2-18 b","t":284,"x":4.209,"y":-14.83},{"p":"K2-18 b","t":284,"x":4.252,"y":-13.98},{"p":"K2-18 b","t":284,"x":4.295,"y":-14.25},{"p":"K2-18 b","t":284,"x":4.332,"y":-15.07},{"p":"K2-18 b","t":284,"x":4.369,"y":-16.14},{"p":"K2-18 b","t":284,"x":4.393,"y":-17.0},{"p":"K2-18 b","t":284,"x":4.406,"y":-17.62},{"p":"K2-18 b","t":284,"x":4.43,"y":-18.44},{"p":"K2-18 b","t":284,"x":4.467,"y":-19.01},{"p":"K2-18 b","t":284,"x":4.504,"y":-19.3},{"p":"K2-18 b","t":284,"x":4.541,"y":-18.85},{"p":"K2-18 b","t":284,"x":4.572,"y":-17.78},{"p":"K2-18 b","t":284,"x":4.602,"y":-17.21},{"p":"K2-18 b","t":284,"x":4.633,"y":-17.45},{"p":"K2-18 b","t":284,"x":4.676,"y":-18.11},{"p":"K2-18 b","t":284,"x":4.719,"y":-18.36},{"p":"K2-18 b","t":284,"x":4.762,"y":-18.11},{"p":"K2-18 b","t":284,"x":4.811,"y":-17.7},{"p":"K2-18 b","t":284,"x":4.86,"y":-17.59},{"p":"K2-18 b","t":284,"x":4.909,"y":-18.11},{"p":"K2-18 b","t":284,"x":4.946,"y":-18.85},{"p":"K2-18 b","t":284,"x":4.983,"y":-19.18},{"p":"K2-18 b","t":284,"x":5.02,"y":-19.1},{"p":"K2-18 b","t":284,"x":5.05,"y":-18.8},
      {"p":"LHS 1140 b","t":226,"x":2.898,"y":-22.87},{"p":"LHS 1140 b","t":226,"x":5.05,"y":-22.87}
    ],
    "annot": [
      {"label":"CH₄","x":3.155,"y":-6.31,"t":387},
      {"label":"CO₂","x":4.285,"y":-6.62,"t":387},
      {"label":"CS₂","x":4.609,"y":-6.78,"t":387}
    ],
    "planets": [
      {"p":"TOI-421 b","t":922,"props":"6.7M⊕ | 2.6R⊕ | 922 K"},
      {"p":"TOI-836 c","t":665,"props":"9.6M⊕ | 2.6R⊕ | 665 K"},
      {"p":"GJ 1214 b","t":567,"props":"8.4M⊕ | 2.7R⊕ | 567 K"},
      {"p":"TOI-776 c","t":420,"props":"6.9M⊕ | 2.0R⊕ | 420 K"},
      {"p":"TOI-270 d","t":387,"props":"4.8M⊕ | 2.1R⊕ | 387 K"},
      {"p":"K2-18 b","t":284,"props":"8.9M⊕ | 2.4R⊕ | 284 K"},
      {"p":"LHS 1140 b","t":226,"props":"5.6M⊕ | 1.7R⊕ | 226 K"}
    ],
    "cbar": [{"tmin":226,"tmax":922}]
  },
  "hconcat": [
    {
      "width": 584,
      "height": 996,
      "encoding": {
        "x": {"field": "x", "type": "quantitative", "scale": {"domain": [2.9, 5.05], "nice": false, "zero": false},
          "axis": {"values": [3, 4, 5], "title": "Wavelength (um)", "labelFontSize": 36, "titleFontSize": 31, "titleFontWeight": "normal", "tickSize": 8, "tickWidth": 1.5, "domainWidth": 1.5, "domainColor": "#262626", "tickColor": "#262626", "labelColor": "#262626", "titleColor": "#262626", "labelPadding": 4, "titlePadding": 14}},
        "y": {"field": "y", "type": "quantitative", "scale": {"domain": [-28, 21.05], "nice": false, "zero": false},
          "axis": {"values": [-20, -10, 0, 10, 20], "title": "Planetary Radius (scale-heights; μ = 2.3) + Offset", "labelFontSize": 36, "titleFontSize": 31, "titleFontWeight": "normal", "tickSize": 8, "tickWidth": 1.5, "domainWidth": 1.5, "domainColor": "#262626", "tickColor": "#262626", "labelColor": "#262626", "titleColor": "#262626", "labelPadding": 8, "titlePadding": 20}},
        "color": {"field": "t", "type": "quantitative", "legend": null,
          "scale": {"type": "linear", "domain": [226, 300, 400, 500, 570, 600, 700, 800, 922], "range": ["#699ee8", "#557db9", "#465e87", "#2d3748", "#202022", "#2d2623", "#6e4832", "#b46941", "#e6844c"], "interpolate": "rgb"}}
      },
      "layer": [
        {"data": {"name": "faint"}, "mark": {"type": "errorbar", "thickness": 3, "opacity": 0.28}, "encoding": {"yError": {"field": "e"}}},
        {"data": {"name": "faint"}, "mark": {"type": "circle", "size": 30, "opacity": 0.35}},
        {"data": {"name": "model"}, "mark": {"type": "line", "strokeWidth": 3, "interpolate": "monotone"}, "encoding": {"detail": {"field": "p"}}},
        {"data": {"name": "binned"}, "mark": {"type": "errorbar", "thickness": 3}, "encoding": {"yError": {"field": "e"}}},
        {"data": {"name": "binned"}, "mark": {"type": "circle", "size": 190, "opacity": 1}},
        {"data": {"name": "annot"}, "mark": {"type": "text", "fontSize": 30, "baseline": "middle", "align": "center"}, "encoding": {"text": {"field": "label"}}}
      ]
    },
    {
      "width": 412,
      "height": 974,
      "data": {"name": "planets"},
      "encoding": {
        "y": {"field": "p", "type": "nominal", "sort": ["TOI-421 b", "TOI-836 c", "GJ 1214 b", "TOI-776 c", "TOI-270 d", "K2-18 b", "LHS 1140 b"], "scale": {"type": "point", "padding": 0.652}, "axis": null},
        "color": {"field": "t", "type": "quantitative", "legend": null,
          "scale": {"type": "linear", "domain": [226, 300, 400, 500, 570, 600, 700, 800, 922], "range": ["#699ee8", "#557db9", "#465e87", "#2d3748", "#202022", "#2d2623", "#6e4832", "#b46941", "#e6844c"], "interpolate": "rgb"}}
      },
      "layer": [
        {"mark": {"type": "text", "fontSize": 36, "fontWeight": "bold", "dy": -19, "dx": -11, "baseline": "middle"}, "encoding": {"text": {"field": "p"}}},
        {"mark": {"type": "text", "fontSize": 26, "dy": 19, "dx": -11, "baseline": "middle"}, "encoding": {"text": {"field": "props"}}}
      ]
    },
    {
      "width": 49,
      "height": 995,
      "data": {"name": "cbar"},
      "mark": {"type": "rect", "fill": {"gradient": "linear", "x1": 0, "y1": 1, "x2": 0, "y2": 0,
        "stops": [{"offset": 0, "color": "#699ee8"}, {"offset": 0.1063, "color": "#557db9"}, {"offset": 0.25, "color": "#465e87"}, {"offset": 0.3937, "color": "#2d3748"}, {"offset": 0.4943, "color": "#202022"}, {"offset": 0.5374, "color": "#2d2623"}, {"offset": 0.681, "color": "#6e4832"}, {"offset": 0.8247, "color": "#b46941"}, {"offset": 1, "color": "#e6844c"}]}},
      "encoding": {
        "y": {"field": "tmax", "type": "quantitative", "scale": {"domain": [226, 923.4], "nice": false, "zero": false},
          "axis": {"orient": "right", "values": [300, 400, 500, 600, 700, 800, 900], "domain": false, "tickSize": 7, "tickWidth": 1.5, "labelFontSize": 31, "labelPadding": 8,
            "labelColor": {"condition": [{"test": "datum.value == 900", "value": "#dd7f4a"}, {"test": "datum.value == 800", "value": "#b46941"}, {"test": "datum.value == 700", "value": "#6e4832"}, {"test": "datum.value == 600", "value": "#2d2623"}, {"test": "datum.value == 500", "value": "#2d3748"}, {"test": "datum.value == 400", "value": "#465e87"}], "value": "#557db9"},
            "tickColor": {"condition": [{"test": "datum.value == 900", "value": "#dd7f4a"}, {"test": "datum.value == 800", "value": "#b46941"}, {"test": "datum.value == 700", "value": "#6e4832"}, {"test": "datum.value == 600", "value": "#2d2623"}, {"test": "datum.value == 500", "value": "#2d3748"}, {"test": "datum.value == 400", "value": "#465e87"}], "value": "#557db9"},
            "title": "Equilibrium temperature (K)", "titleFontSize": 31, "titleFontWeight": "normal", "titleColor": "#262626", "titleAngle": 270, "titleBaseline": "top", "titleY": 440, "titlePadding": 28}},
        "y2": {"field": "tmin"}
      }
    }
  ]
}
